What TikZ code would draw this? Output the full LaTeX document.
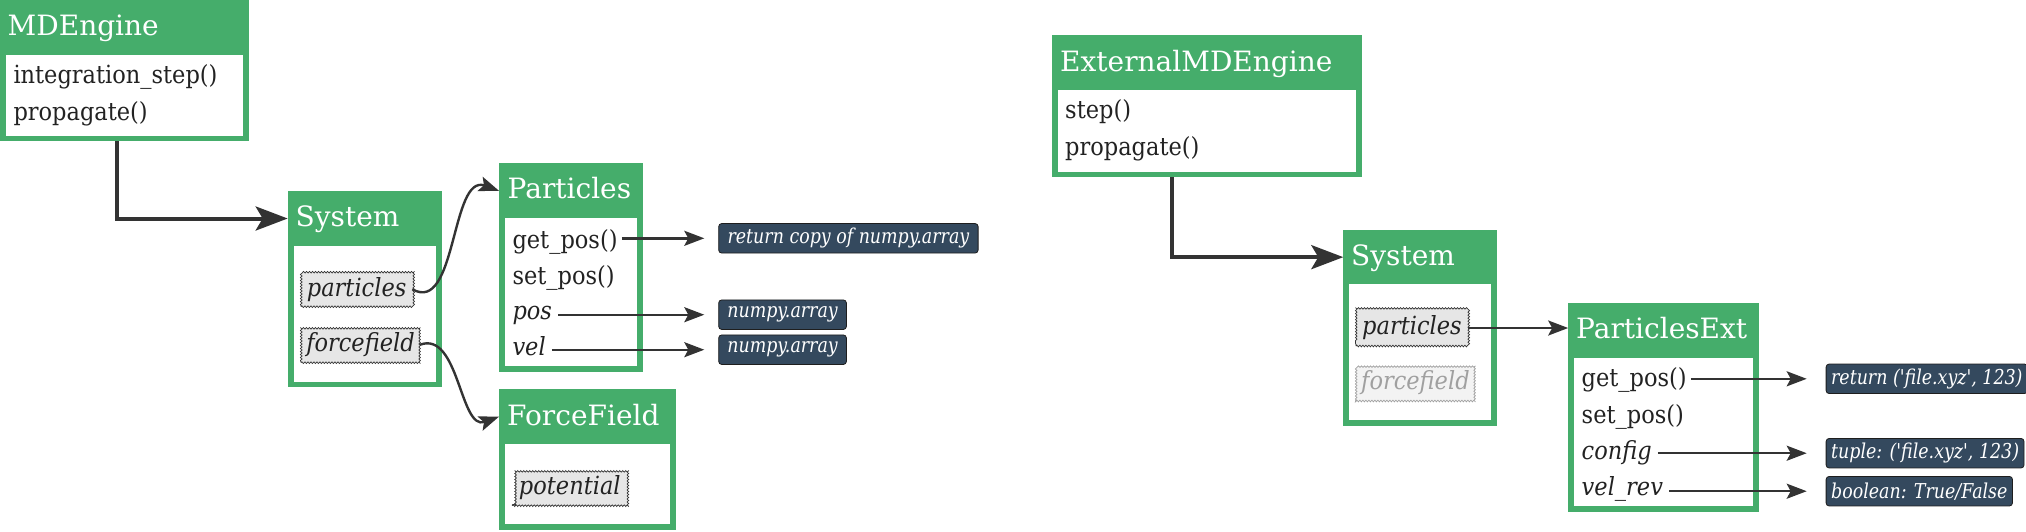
\documentclass[tikz,border=0pt]{standalone}
\usepackage{fontspec}
\setmainfont{DejaVu Serif}
\newfontfamily\bodyfont[FakeStretch=0.9]{DejaVu Serif}
\newfontfamily\lblfont[FakeStretch=0.85]{DejaVu Serif}
\usetikzlibrary{arrows.meta,decorations.pathmorphing}
\definecolor{grn}{RGB}{69,173,107}
\definecolor{ink}{RGB}{51,51,51}
\definecolor{txt}{RGB}{34,34,34}
\definecolor{lblfill}{RGB}{52,73,94}
\definecolor{lbldraw}{RGB}{30,30,30}
\definecolor{attrfill}{RGB}{230,230,230}
\definecolor{fadefill}{RGB}{243,243,243}
\definecolor{fadeink}{RGB}{160,160,160}
\tikzset{
  gbox/.style={fill=grn, draw=none, anchor=north west, inner sep=0pt, outer sep=0pt},
  wbox/.style={fill=white, draw=none, anchor=north west, inner sep=0pt, outer sep=0pt},
  ttl/.style={anchor=base west, inner sep=0pt, text=white, font=\fontsize{28}{32}\selectfont},
  item/.style={anchor=base west, inner sep=0pt, text=txt, font=\bodyfont\fontsize{25}{28}\selectfont},
  itemi/.style={item, font=\bodyfont\fontsize{25}{28}\selectfont\itshape},
  attr/.style={anchor=north west, inner sep=0pt, outer sep=0pt, fill=attrfill, draw=ink, line width=0.7pt,
    decorate, decoration={snake, amplitude=0.8pt, segment length=3pt},
    font=\bodyfont\fontsize{25}{28}\selectfont\itshape, text=txt},
  fadeattr/.style={attr, fill=fadefill, draw=fadeink, text=fadeink},
  lbl/.style={anchor=west, fill=lblfill, draw=lbldraw, line width=0.8pt, rounded corners=3pt,
    text=white, inner xsep=5pt, inner ysep=0pt, minimum height=29.5pt,
    font=\lblfont\fontsize{20.5}{23}\selectfont\itshape},
  flow/.style={draw=ink, line width=4pt, -{Stealth[length=32pt,width=24pt,inset=7pt]}},
  link/.style={draw=ink, line width=2.4pt, -{Stealth[length=20pt,width=15pt,inset=4pt]}},
}
\begin{document}
\begin{tikzpicture}[x=1pt,y=-1pt]
\useasboundingbox (0,0) rectangle (2026,531);

% ---------- left: MDEngine ----------
\node[gbox, minimum width=248.7pt, minimum height=55pt] (md-h) at (0,0) {};
\node[gbox, minimum width=248.7pt, minimum height=86.3pt] (md) at (0,55) {};
\node[wbox, minimum width=236.7pt, minimum height=80.5pt] (md-i) at (6,55) {};
\node[ttl] (md-t) at (7.5,35) {MDEngine};
\node[item] (md-a) at (13.3,83.3) {integration\_step()};
\node[item] (md-b) at (13.3,120) {propagate()};

% ---------- left: System ----------
\node[gbox, minimum width=154pt, minimum height=55pt] (sl-h) at (287.7,191) {};
\node[gbox, minimum width=154pt, minimum height=141.3pt] (sl) at (287.7,246) {};
\node[wbox, minimum width=142pt, minimum height=135.5pt] (sl-i) at (293.7,246) {};
\node[ttl] (sl-t) at (295.5,226.5) {System};
\node[attr, minimum width=111.3pt, minimum height=35pt] (sl-p) at (301,271.7) {particles};
\node[attr, minimum width=119pt, minimum height=36pt] (sl-f) at (301,326.7) {forcefield};

% ---------- left: Particles ----------
\node[gbox, minimum width=144pt, minimum height=55pt] (pp-h) at (499,163.3) {};
\node[gbox, minimum width=144pt, minimum height=153.7pt] (pp) at (499,218.3) {};
\node[wbox, minimum width=132pt, minimum height=148pt] (pp-i) at (505,218.3) {};
\node[ttl] (pp-t) at (507.5,198.3) {Particles};
\node[item] (pp-a) at (512.3,248.3) {get\_pos()};
\node[item] (pp-b) at (512.3,284.3) {set\_pos()};
\node[itemi] (pp-c) at (512.3,319.5) {pos};
\node[itemi] (pp-d) at (512.3,355.3) {vel};

% ---------- left: ForceField ----------
\node[gbox, minimum width=177pt, minimum height=54.7pt] (ff-h) at (499,389.3) {};
\node[gbox, minimum width=177pt, minimum height=86pt] (ff) at (499,444) {};
\node[wbox, minimum width=165pt, minimum height=80.3pt] (ff-i) at (505,444) {};
\node[ttl] (ff-t) at (507,425) {ForceField};
\node[attr, minimum width=115pt, minimum height=36.4pt] (ff-p) at (512.3,469.3) {potential};

% ---------- left: labels ----------
\node[lbl, minimum width=259.4pt] (r1) at (718.3,238.3) {return copy of numpy.array};
\node[lbl, minimum width=127.7pt] (r2) at (718.3,314.7) {numpy.array};
\node[lbl, minimum width=127.7pt] (r3) at (718.3,349.7) {numpy.array};

% ---------- right: ExternalMDEngine ----------
\node[gbox, minimum width=310.6pt, minimum height=55pt] (em-h) at (1051.7,35) {};
\node[gbox, minimum width=310.6pt, minimum height=87.3pt] (em) at (1051.7,90) {};
\node[wbox, minimum width=298.6pt, minimum height=81.5pt] (em-i) at (1057.7,90) {};
\node[ttl] (em-t) at (1060,71.5) {ExternalMDEngine};
\node[item] (em-a) at (1065,118.3) {step()};
\node[item] (em-b) at (1065,155) {propagate()};

% ---------- right: System ----------
\node[gbox, minimum width=153.3pt, minimum height=54.3pt] (sr-h) at (1343.3,230) {};
\node[gbox, minimum width=153.3pt, minimum height=141.7pt] (sr) at (1343.3,284.3) {};
\node[wbox, minimum width=141.3pt, minimum height=136pt] (sr-i) at (1349.3,284.3) {};
\node[ttl] (sr-t) at (1351,265) {System};
\node[attr, minimum width=111.9pt, minimum height=36pt] (sr-p) at (1356,310) {particles};
\node[fadeattr, minimum width=118.8pt, minimum height=36pt] (sr-f) at (1356,365) {forcefield};

% ---------- right: ParticlesExt ----------
\node[gbox, minimum width=190.5pt, minimum height=54.4pt] (pe-h) at (1568.2,303.3) {};
\node[gbox, minimum width=190.5pt, minimum height=154pt] (pe) at (1568.2,357.7) {};
\node[wbox, minimum width=178.5pt, minimum height=148.3pt] (pe-i) at (1574.2,357.7) {};
\node[ttl] (pe-t) at (1576,338.3) {ParticlesExt};
\node[item] (pe-a) at (1581.5,386.7) {get\_pos()};
\node[item] (pe-b) at (1581.5,423.3) {set\_pos()};
\node[itemi] (pe-c) at (1581.5,459) {config};
\node[itemi] (pe-d) at (1581.5,495.5) {vel\_rev};

% ---------- right: labels ----------
\node[lbl, minimum width=199.3pt] (q1) at (1825.7,378.8) {return ('file.xyz', 123)};
\node[lbl, minimum width=192.6pt] (q2) at (1825.7,453.2) {tuple: ('file.xyz', 123)};
\node[lbl, minimum width=185.3pt] (q3) at (1825.7,491.2) {boolean: True/False};

% ---------- connectors ----------
\draw[flow] ([xshift=116.7pt]md.south west) |- (sl-h.west);
\draw[flow] ([xshift=120pt]em.south west) |- (sr-h.west);
\draw[link] (sl-p.east) to[out=-30,in=160] (pp-h.west);
\draw[link] (sl-f.east) to[out=20,in=-160] (ff-h.west);
\draw[link, shorten <=4pt, shorten >=14pt] (pp-a.east |- r1.west) -- (r1.west);
\draw[link, shorten <=6pt, shorten >=14pt] (pp-c.east |- r2.west) -- (r2.west);
\draw[link, shorten <=6pt, shorten >=14pt] (pp-d.east |- r3.west) -- (r3.west);
\draw[link] (sr-p.east) -- (sr-p.east -| pe-h.west);
\draw[link, shorten <=4pt, shorten >=19pt] (pe-a.east |- q1.west) -- (q1.west);
\draw[link, shorten <=6pt, shorten >=19pt] (pe-c.east |- q2.west) -- (q2.west);
\draw[link, shorten <=6pt, shorten >=19pt] (pe-d.east |- q3.west) -- (q3.west);
\end{tikzpicture}
\end{document}
